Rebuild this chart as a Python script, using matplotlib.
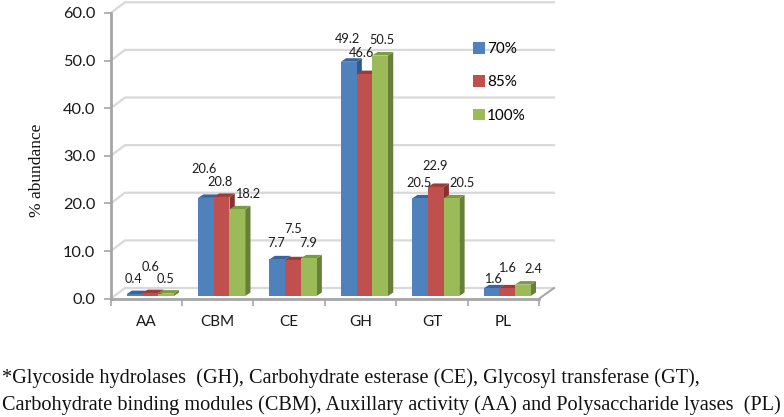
import matplotlib.pyplot as plt
from matplotlib.patches import Polygon, Patch

plt.rcParams['font.family'] = 'Lato'

categories = ["AA", "CBM", "CE", "GH", "GT", "PL"]
series_names = ["70%", "85%", "100%"]
v70 = [0.4, 20.6, 7.7, 49.2, 20.5, 1.6]
v85 = [0.6, 20.8, 7.5, 46.6, 22.9, 1.6]
v100 = [0.5, 18.2, 7.9, 50.5, 20.5, 2.4]
yticks = [0, 10, 20, 30, 40, 50, 60]

# front, top, side colours of each series
colors = [("#4F81BD", "#3A659C", "#2F5A8E"),
          ("#C0504D", "#9E3A38", "#843330"),
          ("#9BBB59", "#7C9A42", "#66803A")]

# label offsets in pixels from the top of each bar
label_dx = [[-1, 0, 0], [-2, -2, 10], [-1, 0, -1], [-1, -3, 2], [-1, -1, 11], [1, 0, 10]]
label_dy = [[15.5, 26, 14.6], [29, 15.3, 15.7], [16, 31, 15.7], [22.5, 21, 15.6], [15, 21, 15], [9, 20.7, 15.6]]

W, H = 784, 417
left, right, top, bottom = 110.7, 539.0, 13.0, 298.7
fig = plt.figure(figsize=(W / 100, H / 100), dpi=100)
ax = fig.add_axes([left / W, 1 - bottom / H, (right - left) / W, (bottom - top) / H])
ax.set_xlim(0, 6)
ax.set_ylim(0, 60)

px = 6 / (right - left)  # x units per pixel
py = 60 / (bottom - top)  # y units per pixel

# back wall and floor
wall_x, wall_y = 14.3 * px, 10.7 * py
for t in yticks:
    ax.plot([0, wall_x, 6 + 15 * px], [t, t + wall_y, t + wall_y], color="#D9D9D9", lw=1.6,
            clip_on=False, zorder=1)
ax.plot([6, 6 + 15 * px], [0, wall_y], color="#A6A6A6", lw=1.4, clip_on=False, zorder=1)

# bars
bar_w = 15.7 * px
depth_x, depth_y = 5.3 * px, 3.5 * py
base_y = 2.7 * py
start = 16.0 * px
for i in range(len(categories)):
    for j, vals in enumerate([v70, v85, v100]):
        x0 = i + start + j * bar_w
        x1 = x0 + bar_w
        y0 = base_y
        y1 = base_y + vals[i]
        front, topc, side = colors[j]
        ax.add_patch(Polygon([(x1, y0), (x1 + depth_x, y0 + depth_y), (x1 + depth_x, y1 + depth_y), (x1, y1)],
                             fc=side, ec="none", zorder=3, clip_on=False))
        ax.add_patch(Polygon([(x0, y1), (x1, y1), (x1 + depth_x, y1 + depth_y), (x0 + depth_x, y1 + depth_y)],
                             fc=topc, ec="none", zorder=3, clip_on=False))
        ax.add_patch(Polygon([(x0, y0), (x1, y0), (x1, y1), (x0, y1)],
                             fc=front, ec="none", zorder=3, clip_on=False))
        ax.text(x0 + bar_w / 2 + label_dx[i][j] * px, y1 + label_dy[i][j] * py, "%.1f" % vals[i],
                ha="center", va="center", fontsize=9.2, color="#1A1A1A", zorder=5)

for s in ["top", "right"]:
    ax.spines[s].set_visible(False)
ax.spines["left"].set_color("#A6A6A6")
ax.spines["left"].set_linewidth(2.0)
ax.spines["bottom"].set_color("#A6A6A6")
ax.spines["bottom"].set_linewidth(2.0)
ax.set_yticks(yticks)
ax.set_yticklabels(["%.1f" % t for t in yticks], fontsize=11.8, color="#1A1A1A")
ax.set_xticks(range(7))
ax.set_xticklabels([])
ax.set_xticks([i + 0.5 for i in range(6)], minor=True)
ax.set_xticklabels(categories, minor=True, fontsize=11, color="#1A1A1A")
ax.tick_params(axis="y", length=5, width=1.2, color="#A6A6A6", pad=6)
ax.tick_params(axis="x", which="major", length=5, width=1.2, color="#A6A6A6", direction="out")
ax.tick_params(axis="x", which="minor", length=0, pad=12)
ax.patch.set_alpha(0)

fig.text(37 / W, 1 - 170 / H, "% abundance", rotation=90, ha="center", va="center",
         family="Liberation Serif", fontsize=12.5, color="#111111")

handles = [Patch(fc=c[0], ec="none") for c in colors]
ax.legend(handles, series_names, loc="upper left", bbox_to_anchor=(473 / W, 1 - 42 / H),
          bbox_transform=fig.transFigure, frameon=False, fontsize=11, handlelength=0.8,
          handleheight=0.8, handletextpad=0.1, labelspacing=1.25, borderpad=0, borderaxespad=0)

fig.text(2 / W, 1 - 378 / H, "*Glycoside hydrolases  (GH), Carbohydrate esterase (CE), Glycosyl transferase (GT),",
         family="Liberation Serif", fontsize=14.6, va="center", color="#111111")
fig.text(2 / W, 1 - 405 / H, "Carbohydrate binding modules (CBM), Auxillary activity (AA) and Polysaccharide lyases  (PL)",
         family="Liberation Serif", fontsize=14.6, va="center", color="#111111")

fig.savefig("out.png", dpi=100)
